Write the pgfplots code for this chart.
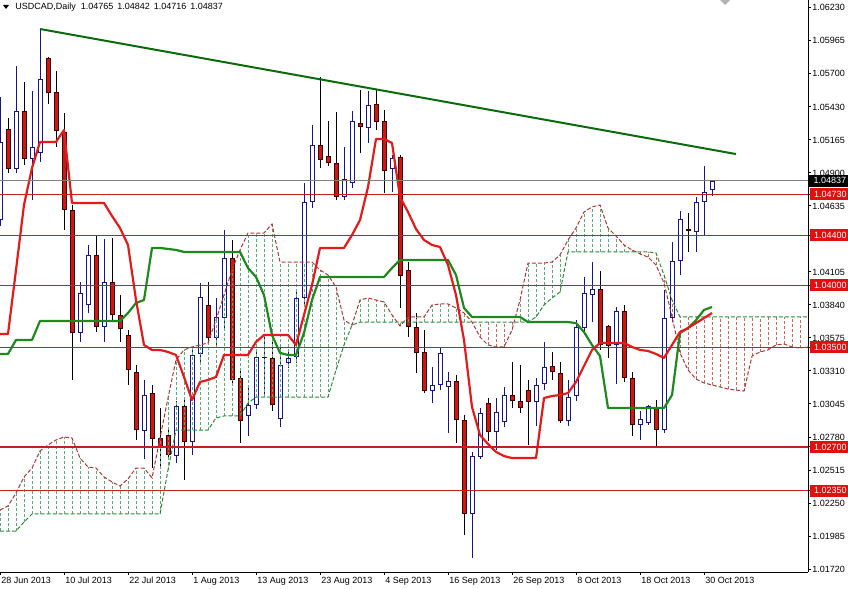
\documentclass[border=0pt]{standalone}
\usepackage{fontspec}
\setmainfont{Liberation Sans}
\usepackage{pgfplots}
\usepackage{pgfplotstable}
\pgfplotsset{compat=1.18}
\newlength\px
\setlength\px{0.75pt}
\newcommand\lf{\fontsize{6.75pt}{8pt}\selectfont}
\definecolor{bullc}{HTML}{15158C}
\definecolor{bearfill}{HTML}{D01515}
\definecolor{bearedge}{HTML}{3A0000}
\definecolor{tenkanc}{HTML}{E31B1B}
\definecolor{kijunc}{HTML}{1E8A1E}
\definecolor{trendc}{HTML}{0B6B0B}
\definecolor{spanA}{HTML}{B03838}
\definecolor{spanB}{HTML}{2E8B3A}
\definecolor{hatchG}{HTML}{5AAA7A}
\definecolor{hatchR}{HTML}{CC6A5A}
\definecolor{lvl}{HTML}{C81E1E}
\definecolor{lvlbox}{HTML}{E01010}

\pgfplotstableread{
i o h l c
0 1.04522 1.05510 1.04474 1.05149
2 1.04932 1.05759 1.04900 1.05398
4 1.05012 1.05558 1.04683 1.05110
5 1.05060 1.06056 1.04988 1.05655
10 1.03615 1.04025 1.03543 1.03936
11 1.03840 1.04322 1.03776 1.04242
13 1.03663 1.04370 1.03543 1.04025
18 1.02828 1.03238 1.02603 1.03117
22 1.02627 1.03069 1.02571 1.03029
24 1.02740 1.03479 1.02636 1.03439
25 1.03447 1.04017 1.03374 1.03904
27 1.03575 1.03896 1.03503 1.03744
28 1.03735 1.04442 1.03639 1.04217
31 1.02949 1.03198 1.02788 1.03037
32 1.03037 1.03479 1.03005 1.03423
33 1.03415 1.03583 1.03117 1.03423
35 1.02925 1.03519 1.02860 1.03358
36 1.03374 1.03479 1.03334 1.03415
37 1.03423 1.03960 1.03374 1.03896
38 1.03896 1.04820 1.03840 1.04667
39 1.04667 1.05285 1.04619 1.05125
43 1.04707 1.05110 1.04683 1.04852
44 1.04820 1.05398 1.04779 1.05317
46 1.05261 1.05558 1.05141 1.05446
49 1.04932 1.05044 1.04747 1.05020
54 1.03149 1.03342 1.03053 1.03198
55 1.03198 1.03495 1.03157 1.03455
56 1.03182 1.03302 1.02812 1.03230
59 1.02162 1.02660 1.01808 1.02627
60 1.02619 1.03013 1.02603 1.02973
62 1.02820 1.03093 1.02676 1.02981
63 1.02900 1.03182 1.02860 1.03117
67 1.03061 1.03254 1.02869 1.03198
68 1.03206 1.03543 1.03157 1.03342
71 1.02909 1.03238 1.02869 1.03101
72 1.03109 1.03719 1.03069 1.03663
73 1.03655 1.04065 1.03599 1.03936
74 1.03920 1.04185 1.03703 1.03968
77 1.03519 1.03824 1.03206 1.03792
80 1.02877 1.02989 1.02756 1.02925
81 1.02893 1.03037 1.02877 1.03029
83 1.02836 1.03960 1.02812 1.03735
84 1.03735 1.04346 1.03703 1.04193
85 1.04193 1.04595 1.04081 1.04531
87 1.04426 1.04707 1.04266 1.04667
88 1.04667 1.04956 1.04394 1.04747
89 1.04765 1.04842 1.04716 1.04837
}\bull

\pgfplotstableread{
i o h l c
1 1.05253 1.05342 1.04900 1.04932
3 1.05398 1.05631 1.04964 1.05012
6 1.05823 1.05831 1.05454 1.05542
7 1.05550 1.05719 1.05110 1.05237
8 1.05229 1.05382 1.04442 1.04603
9 1.04603 1.04643 1.03238 1.03615
12 1.04242 1.04402 1.03623 1.03663
14 1.04025 1.04378 1.03719 1.03760
15 1.03760 1.03920 1.03543 1.03647
16 1.03599 1.03639 1.03198 1.03318
17 1.03302 1.03358 1.02756 1.02836
19 1.03133 1.03198 1.02531 1.02764
20 1.02772 1.03013 1.02531 1.02692
21 1.02796 1.02853 1.02595 1.02636
23 1.03029 1.03093 1.02435 1.02740
26 1.03840 1.04025 1.03519 1.03575
29 1.04217 1.04362 1.03198 1.03238
30 1.03254 1.03318 1.02732 1.02909
34 1.03415 1.03559 1.02989 1.03037
40 1.05125 1.05671 1.04940 1.05004
41 1.05036 1.05317 1.04956 1.04980
42 1.04980 1.05390 1.04683 1.04707
45 1.05301 1.05566 1.05060 1.05269
47 1.05454 1.05574 1.05245 1.05309
48 1.05317 1.05406 1.04739 1.04916
50 1.05028 1.05044 1.03816 1.04073
51 1.04121 1.04185 1.03583 1.03663
52 1.03663 1.03776 1.03294 1.03455
53 1.03463 1.03639 1.03133 1.03149
57 1.03230 1.03278 1.02732 1.02917
58 1.02917 1.02957 1.01993 1.02162
61 1.03053 1.03093 1.02748 1.02820
64 1.03117 1.03383 1.03013 1.03069
65 1.03069 1.03358 1.02973 1.03013
66 1.03157 1.03238 1.02716 1.03061
69 1.03350 1.03463 1.03238 1.03302
70 1.03294 1.03383 1.02893 1.02909
75 1.03968 1.04113 1.03479 1.03519
76 1.03671 1.03679 1.03415 1.03511
78 1.03792 1.03840 1.03222 1.03254
79 1.03254 1.03302 1.02788 1.02877
82 1.03013 1.03077 1.02700 1.02836
86 1.04450 1.04579 1.04266 1.04434
}\bear

\pgfplotstableread{
i t k
0 1.03607 1.03447
1 1.03607 1.03447
2 1.04121 1.03559
3 1.04643 1.03559
4 1.04940 1.03559
5 1.05149 1.03711
6 1.05149 1.03711
7 1.05149 1.03711
8 1.05245 1.03711
9 1.04659 1.03711
10 1.04659 1.03711
11 1.04659 1.03711
12 1.04659 1.03711
13 1.04659 1.03711
14 1.04555 1.03711
15 1.04458 1.03711
16 1.04322 1.03776
17 1.03880 1.03856
18 1.03519 1.03880
19 1.03479 1.04298
20 1.03479 1.04298
21 1.03463 1.04290
22 1.03439 1.04282
23 1.03262 1.04266
24 1.03077 1.04266
25 1.03222 1.04266
26 1.03238 1.04266
27 1.03262 1.04266
28 1.03439 1.04266
29 1.03439 1.04266
30 1.03439 1.04266
31 1.03439 1.04137
32 1.03543 1.04065
33 1.03599 1.03920
34 1.03599 1.03599
35 1.03599 1.03455
36 1.03599 1.03439
37 1.03519 1.03439
38 1.03760 1.03615
39 1.04000 1.03880
40 1.04298 1.04065
41 1.04298 1.04065
42 1.04298 1.04065
43 1.04298 1.04065
44 1.04402 1.04065
45 1.04522 1.04065
46 1.04787 1.04065
47 1.05173 1.04065
48 1.05173 1.04065
49 1.05141 1.04137
50 1.04707 1.04201
51 1.04587 1.04201
52 1.04450 1.04201
53 1.04362 1.04201
54 1.04322 1.04201
55 1.04306 1.04201
56 1.04161 1.04201
57 1.03920 1.04081
58 1.03559 1.03816
59 1.03021 1.03744
60 1.02796 1.03744
61 1.02724 1.03744
62 1.02660 1.03744
63 1.02627 1.03744
64 1.02611 1.03744
65 1.02611 1.03744
66 1.02611 1.03703
67 1.02611 1.03703
68 1.03093 1.03703
69 1.03109 1.03703
70 1.03117 1.03703
71 1.03133 1.03703
72 1.03222 1.03695
73 1.03350 1.03623
74 1.03479 1.03519
75 1.03535 1.03430
76 1.03535 1.03013
77 1.03535 1.03013
78 1.03535 1.03013
79 1.03503 1.03013
80 1.03479 1.03013
81 1.03471 1.03013
82 1.03447 1.03013
83 1.03415 1.03013
84 1.03519 1.03117
85 1.03623 1.03615
86 1.03655 1.03655
87 1.03695 1.03719
88 1.03735 1.03800
89 1.03776 1.03824
}\ichi

\pgfplotstableread{
i a b
0 1.02194 1.02025
1 1.02226 1.02025
2 1.02330 1.02025
3 1.02459 1.02097
4 1.02531 1.02162
5 1.02668 1.02162
6 1.02716 1.02162
7 1.02756 1.02162
8 1.02780 1.02162
9 1.02772 1.02162
10 1.02611 1.02162
11 1.02539 1.02162
12 1.02531 1.02162
13 1.02459 1.02162
14 1.02419 1.02162
15 1.02386 1.02162
16 1.02443 1.02162
17 1.02531 1.02162
18 1.02531 1.02162
19 1.02451 1.02162
20 1.02772 1.02162
21 1.03093 1.02515
22 1.03399 1.02836
23 1.03479 1.02836
24 1.03503 1.02836
25 1.03519 1.02836
26 1.03535 1.02836
27 1.03719 1.02933
28 1.03920 1.02949
29 1.04121 1.02949
30 1.04282 1.02949
31 1.04418 1.03053
32 1.04418 1.03101
33 1.04418 1.03101
34 1.04490 1.03101
35 1.04185 1.03101
36 1.04185 1.03101
37 1.04185 1.03101
38 1.04185 1.03101
39 1.04185 1.03101
40 1.04121 1.03101
41 1.04081 1.03101
42 1.03984 1.03318
43 1.03719 1.03519
44 1.03679 1.03679
45 1.03880 1.03703
46 1.03896 1.03703
47 1.03880 1.03703
48 1.03864 1.03703
49 1.03760 1.03703
50 1.03671 1.03703
51 1.03744 1.03703
52 1.03744 1.03703
53 1.03744 1.03703
54 1.03840 1.03703
55 1.03848 1.03703
56 1.03848 1.03703
57 1.03816 1.03703
58 1.03776 1.03703
59 1.03703 1.03703
60 1.03583 1.03703
61 1.03519 1.03703
62 1.03503 1.03703
63 1.03503 1.03703
64 1.03639 1.03703
65 1.03880 1.03703
66 1.04177 1.03703
67 1.04177 1.03744
68 1.04177 1.03840
69 1.04185 1.03896
70 1.04242 1.03944
71 1.04362 1.04266
72 1.04458 1.04266
73 1.04587 1.04266
74 1.04627 1.04266
75 1.04643 1.04266
76 1.04458 1.04266
77 1.04394 1.04266
78 1.04322 1.04266
79 1.04282 1.04266
80 1.04250 1.04266
81 1.04225 1.04266
82 1.04161 1.04258
83 1.04017 1.04081
84 1.03744 1.03880
85 1.03455 1.03744
86 1.03318 1.03744
87 1.03246 1.03744
88 1.03214 1.03744
89 1.03198 1.03744
90 1.03182 1.03744
91 1.03165 1.03744
92 1.03157 1.03744
93 1.03149 1.03744
94 1.03430 1.03744
95 1.03463 1.03744
96 1.03479 1.03744
97 1.03519 1.03744
98 1.03527 1.03744
99 1.03503 1.03744
100 1.03495 1.03744
101 1.03503 1.03744
}\cloud

\pgfplotsset{
  eb/.style={draw=none, mark=none, no markers, forget plot,
    error bars/y dir=plus, error bars/y explicit, error bars/error mark=none,
    error bars/error bar style={#1}},
}

\begin{document}
\begin{tikzpicture}
\begin{axis}[name=main, scale only axis, width=808\px, height=572\px,
  xmin=0, xmax=101, ymin=1.01696, ymax=1.06289,
  axis x line*=bottom, axis y line*=right,
  axis line style={-, black, line width=1\px},
  xtick={0,8,...,88},
  xticklabels={28 Jun 2013,10 Jul 2013,22 Jul 2013,1 Aug 2013,13 Aug 2013,23 Aug 2013,4 Sep 2013,16 Sep 2013,26 Sep 2013,8 Oct 2013,18 Oct 2013,30 Oct 2013},
  ytick={1.06230,1.05965,1.05700,1.05430,1.05165,1.04900,1.04635,1.04105,1.03840,1.03575,1.03310,1.03045,1.02780,1.02515,1.02250,1.01985,1.01720},
  yticklabels={1.06230,1.05965,1.05700,1.05430,1.05165,1.04900,1.04635,1.04105,1.03840,1.03575,1.03310,1.03045,1.02780,1.02515,1.02250,1.01985,1.01720},
  scaled y ticks=false, scaled x ticks=false,
  tick align=outside, major tick length=3\px,
  tick style={black, line width=1\px},
  ticklabel style={font=\lf, inner sep=0pt},
  xticklabel style={anchor=north west, xshift=1\px, yshift=-2\px},
  yticklabel style={anchor=west, xshift=1\px},
  extra y ticks={1.0473,1.044,1.040,1.035,1.027,1.0235},
  extra y tick labels={1.04730,1.04400,1.04000,1.03500,1.02700,1.02350},
  extra y tick style={yticklabel style={fill=lvlbox, text=white, minimum width=40\px, minimum height=12\px, xshift=-2\px}},
]
% candles: wicks
\addplot[eb={line width=1\px, draw=bullc}] table[x=i, y=l, y error expr=\thisrow{h}-\thisrow{l}] {\bull};
\addplot[eb={line width=1\px, draw=black}] table[x=i, y=l, y error expr=\thisrow{h}-\thisrow{l}] {\bear};
% bull bodies
\addplot[eb={line width=5\px, draw=bullc}] table[x=i, y=o, y error expr={max(\thisrow{c}-\thisrow{o},0.00008)}] {\bull};
\addplot[eb={line width=3\px, draw=white}] table[x=i, y expr=\thisrow{o}+0.00008, y error expr={max(\thisrow{c}-\thisrow{o}-0.00016,0)}] {\bull};
% bear bodies
\addplot[eb={line width=5\px, draw=bearedge}] table[x=i, y=c, y error expr={max(\thisrow{o}-\thisrow{c},0.00008)}] {\bear};
\addplot[eb={line width=3\px, draw=bearfill}] table[x=i, y expr=\thisrow{c}+0.00008, y error expr={max(\thisrow{o}-\thisrow{c}-0.00016,0)}] {\bear};
% cloud hatching
\addplot[eb={line width=1\px, draw=hatchG, dash pattern=on 3\px off 2\px}] table[x=i, y=b, y error expr={max(\thisrow{a}-\thisrow{b},0)}] {\cloud};
\addplot[eb={line width=1\px, draw=hatchR, dash pattern=on 3\px off 2\px}] table[x=i, y=a, y error expr={max(\thisrow{b}-\thisrow{a},0)}] {\cloud};
% spans
\addplot[spanA, line width=1\px, dash pattern=on 4\px off 2\px] table[x=i, y=a] {\cloud};
\addplot[spanB, line width=1\px, dash pattern=on 4\px off 2\px] table[x=i, y=b] {\cloud};
% tenkan / kijun
\addplot[kijunc, line width=2.2\px, line join=round] table[x=i, y=k] {\ichi};
\addplot[tenkanc, line width=2.2\px, line join=round] table[x=i, y=t] {\ichi};
% levels
\addplot[lvl, line width=1.1\px] coordinates {(0,1.0473) (101,1.0473)};
\addplot[lvl, line width=1.1\px] coordinates {(0,1.0440) (101,1.0440)};
\addplot[lvl, line width=1.1\px] coordinates {(0,1.0400) (101,1.0400)};
\addplot[lvl, line width=1.1\px] coordinates {(0,1.0350) (101,1.0350)};
\addplot[lvl, line width=1.1\px] coordinates {(0,1.0270) (101,1.0270)};
\addplot[lvl, line width=1.1\px] coordinates {(0,1.0235) (101,1.0235)};
\addplot[gray, line width=1\px] coordinates {(0,1.04837) (101,1.04837)};
% trend line
\addplot[trendc, line width=2\px] coordinates {(5,1.06056) (92,1.05052)};
\coordinate (cp) at (axis cs:101,1.04837);
\end{axis}
\node[fill=black, text=white, font=\lf, anchor=west, minimum width=40\px, minimum height=12\px, inner ysep=0pt] at ([xshift=1\px]cp) {1.04837};
\fill ([shift={(3\px,-5\px)}]main.north west) -- ++(6\px,0) -- ++(-3\px,-4\px) -- cycle;
\node[font=\lf, anchor=west, inner sep=0pt] at ([shift={(15\px,-7.5\px)}]main.north west) {USDCAD,Daily\hspace{5\px}1.04765\hspace{4\px}1.04842\hspace{4\px}1.04716\hspace{4\px}1.04837};
\fill[gray!60] ([shift={(720\px,0)}]main.north west) -- ++(10\px,0) -- ++(-5\px,-5\px) -- cycle;
\pgfresetboundingbox
\path[use as bounding box] (main.north west) rectangle ([shift={(848\px,-588\px)}]main.north west);
\end{tikzpicture}
\end{document}
